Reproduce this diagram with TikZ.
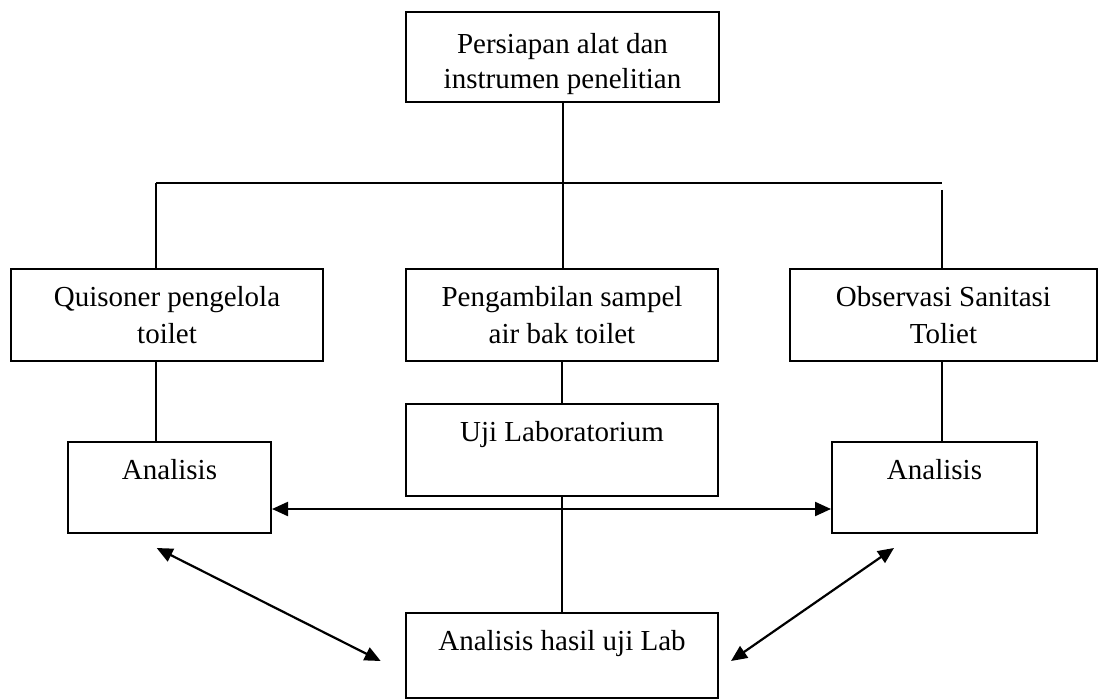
\documentclass[tikz,border=0pt]{standalone}
\usepackage{fontspec}
\setmainfont{Liberation Serif}
\usetikzlibrary{arrows.meta}
\begin{document}
\begin{tikzpicture}[x=1pt,y=-1pt,
  box/.style={draw, line width=2pt, rectangle, inner sep=0pt},
  txt/.style={anchor=north, inner sep=0pt, align=center, font=\fontsize{29}{37.7}\selectfont},
  ttxt/.style={anchor=north, inner sep=0pt, align=center, font=\fontsize{29}{35}\selectfont},
  conn/.style={line width=2pt},
  arr/.style={line width=2.2pt, {Triangle[length=16pt,width=14pt]}-{Triangle[length=16pt,width=14pt]}}]
\useasboundingbox (0,0) rectangle (1099,700);
% boxes
\node[box, minimum width=313pt, minimum height=90pt] (top) at (562.5,57) {};
\node[box, minimum width=312pt, minimum height=92pt] (qbox) at (167,315) {};
\node[box, minimum width=312pt, minimum height=92pt] (pbox) at (562,315) {};
\node[box, minimum width=307pt, minimum height=92pt] (obox) at (943.5,315) {};
\node[box, minimum width=312pt, minimum height=92pt] (uji) at (562,450) {};
\node[box, minimum width=203pt, minimum height=91pt] (aL) at (169.5,487.5) {};
\node[box, minimum width=205pt, minimum height=91pt] (aR) at (934.5,487.5) {};
\node[box, minimum width=312pt, minimum height=85pt] (hasil) at (562,655.5) {};
% texts
\node[ttxt] (toptext) at ([yshift=-18.1pt]top.north) {\strut Persiapan alat dan\\instrumen penelitian};
\node[txt] (qtext) at ([yshift=-11.6pt]qbox.north) {\strut Quisoner pengelola\\toilet};
\node[txt] (ptext) at ([yshift=-11.6pt]pbox.north) {\strut Pengambilan sampel\\air bak toilet};
\node[txt] (otext) at ([yshift=-11.6pt]obox.north) {\strut Observasi Sanitasi\\Toliet};
\node[txt] (ujitext) at ([yshift=-11.6pt]uji.north) {\strut Uji Laboratorium};
\node[txt] (aLtext) at ([yshift=-11.6pt]aL.north) {\strut Analisis};
\node[txt] (aRtext) at ([yshift=-11.6pt]aR.north) {\strut Analisis};
\node[txt] (hasiltext) at ([yshift=-11.6pt]hasil.north) {\strut Analisis hasil uji Lab};
% junction coordinates
\coordinate (jl) at (156,183);
\coordinate (jr) at (942,183);
\coordinate (jr2) at (942,190);
\coordinate (dl1) at (156.7,548);
\coordinate (dl2) at (380.7,661);
\coordinate (dr1) at (894,548);
\coordinate (dr2) at (731,661);
% connectors
\draw[conn] (jl) -- (jr);
\draw[conn] (top.south) -- (top.south |- pbox.north);
\draw[conn] (jl) -- (jl |- qbox.north);
\draw[conn] (jr2) -- (jr2 |- obox.north);
\draw[conn] (qbox.south -| jl) -- (aL.north -| jl);
\draw[conn] (obox.south -| jr) -- (aR.north -| jr);
\draw[conn] (pbox.south) -- (uji.north);
\draw[conn] (uji.south) -- (hasil.north);
\draw[arr] ([yshift=-21.5pt]aL.east) -- ([yshift=-21.5pt]aR.west);
\draw[arr] (dl1) -- (dl2);
\draw[arr] (dr1) -- (dr2);
\end{tikzpicture}
\end{document}
